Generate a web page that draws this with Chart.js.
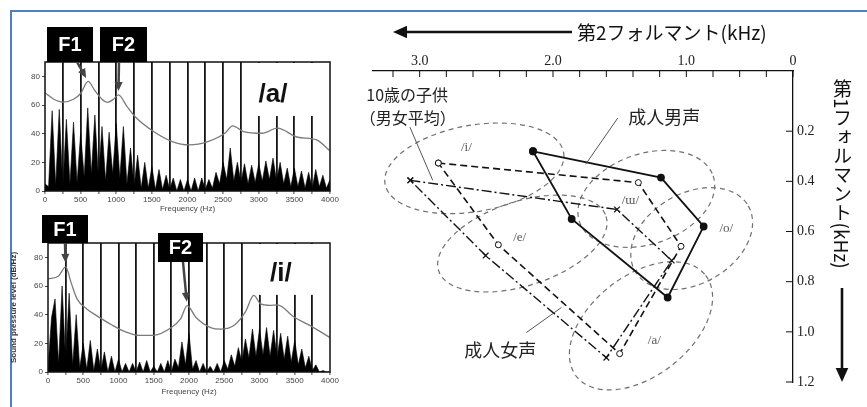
<!DOCTYPE html>
<html>
<head>
<meta charset="utf-8">
<script src="https://cdn.jsdelivr.net/npm/chart.js@4.4.1/dist/chart.umd.min.js"></script>
<style>
  body { margin: 0; background: #fff; }
  #page { position: relative; width: 867px; height: 407px; overflow: hidden; background: #fff; }
  #page canvas { position: absolute; }
  #frame { position: absolute; left: 10px; top: 10px; width: 900px; height: 420px; border-left: 2px solid #4f81bd; border-top: 2px solid #4f81bd; }
  #f1Title { position: absolute; left: 831px; top: 79px; writing-mode: vertical-rl; font: 19px/22px "Noto Sans CJK JP", sans-serif; color: #111; }
  #f1Title span { text-orientation: sideways; }
</style>
</head>
<body>
<div id="page">
  <div id="frame"></div>
  <canvas id="specA" width="340" height="195" style="left:0;top:20px"></canvas>
  <canvas id="specI" width="340" height="207" style="left:0;top:200px"></canvas>
  <canvas id="vowel" width="527" height="407" style="left:340px;top:0"></canvas>
  <div id="f1Title">第<span>1</span>フォルマント(kHz)</div>
</div>
<script>
// spectra: one value (dB) every SPEC_STEP Hz, 0..4000 Hz
const SPEC_STEP = 50;
const FREQ_TICKS = [0, 250, 500, 750, 1000, 1250, 1500, 1750, 2000, 2250, 2500, 2750, 3000, 3250, 3500, 3750, 4000];
const DB_TICKS = [0, 20, 40, 60, 80];

const A_SPEC = [5, 3, 56, 4, 57, 3, 50, 5, 48, 6, 40, 10, 58, 12, 53, 9, 45, 7, 41, 12,
  47, 9, 45, 5, 30, 3, 25, 2, 20, 2, 17, 1, 15, 1, 11, 1, 9, 0, 8, 0,
  8, 0, 9, 0, 9, 1, 8, 2, 13, 5, 20, 8, 30, 7, 20, 6, 19, 5, 18, 6,
  19, 7, 21, 8, 23, 7, 20, 5, 16, 3, 16, 3, 14, 2, 13, 2, 15, 3, 11, 2, 8];
const I_SPEC = [3, 38, 51, 6, 60, 8, 55, 5, 40, 3, 20, 2, 22, 1, 16, 1, 14, 0, 11, 0,
  9, 0, 6, 0, 6, 0, 7, 0, 8, 0, 4, 0, 6, 0, 8, 0, 9, 3, 21, 5,
  27, 2, 8, 0, 6, 0, 4, 0, 6, 0, 8, 2, 12, 4, 17, 7, 23, 10, 30, 11,
  30, 12, 31, 11, 29, 10, 27, 9, 25, 7, 22, 5, 16, 3, 11, 1, 5, 0, 1, 0, 0];

// spectral envelopes
const A_ENV_HZ = [0, 125, 250, 400, 500, 605, 700, 800, 880, 960, 1030, 1150, 1262, 1524, 1786, 2024, 2286, 2524, 2633, 2786, 3048, 3262, 3548, 3810, 4000];
const A_ENV_DB = [68.5, 64, 62, 64, 68, 76.5, 70, 64, 61.8, 64, 67, 59, 52, 41.5, 34.5, 32.2, 34.5, 40.3, 45.5, 41.5, 40.3, 43.8, 37.5, 35.7, 28];
const I_ENV_HZ = [0, 150, 250, 330, 412, 550, 700, 900, 1100, 1300, 1500, 1750, 1880, 1974, 2100, 2306, 2448, 2650, 2800, 2920, 3016, 3150, 3252, 3500, 3726, 4000];
const I_ENV_DB = [65, 67, 73.4, 62, 51, 44, 39, 33, 28, 25.5, 25.6, 31, 37, 46.3, 38, 31, 29.9, 33, 42, 53.4, 47.5, 46.5, 46.8, 38, 32.2, 24];

// vowel chart, kHz. order: /i/ /ɯ/ /o/ /a/ /e/
const MALE_F2 = [2.15, 1.19, 0.87, 1.14, 1.86];
const MALE_F1 = [0.28, 0.385, 0.58, 0.863, 0.55];
const FEMALE_F2 = [2.86, 1.36, 1.04, 1.50, 2.41];
const FEMALE_F1 = [0.327, 0.405, 0.659, 1.087, 0.653];
const CHILD_F2 = [3.07, 1.52, 1.11, 1.60, 2.505];
const CHILD_F1 = [0.396, 0.512, 0.716, 1.103, 0.696];

// top axis: the right end of the axis is printed as "0"
const F2_TICKS = [3.0, 2.0, 1.0, 0.2];
const F2_TICK_LABELS = ['3.0', '2.0', '1.0', '0'];
const F2_MINOR = [3.2, 2.8, 2.6, 2.4, 2.2, 1.8, 1.6, 1.4, 1.2, 0.8, 0.6, 0.4];
const F1_TICKS = [0.2, 0.4, 0.6, 0.8, 1.0, 1.2];

// dashed vowel regions (centre, semi axes in kHz, tilt in degrees)
const REGIONS = [
  { v: 'i', f2: 2.59, f1: 0.348, a: 0.68, b: 0.172, rot: -10, lx: 2.65, ly: 0.264 },
  { v: 'e', f2: 2.23, f1: 0.648, a: 0.66, b: 0.168, rot: -18, lx: 2.25, ly: 0.624 },
  { v: 'ɯ', f2: 1.30, f1: 0.470, a: 0.53, b: 0.18, rot: -19, lx: 1.42, ly: 0.476 },
  { v: 'o', f2: 0.96, f1: 0.628, a: 0.49, b: 0.18, rot: -30, lx: 0.70, ly: 0.588 },
  { v: 'a', f2: 1.34, f1: 0.976, a: 0.615, b: 0.2, rot: -38, lx: 1.24, ly: 1.036 }
];

const NOTES = [
  { text: '10歳の子供', f2: 3.40, f1: 0.056, align: 'left', size: 16 },
  { text: '（男女平均）', f2: 3.45, f1: 0.148, align: 'left', size: 16 },
  { text: '成人男声', f2: 1.166, f1: 0.143, align: 'center', size: 18 },
  { text: '成人女声', f2: 2.396, f1: 1.074, align: 'center', size: 18 }
];
const LEADERS = [
  [3.073, 0.184, 2.902, 0.396],
  [1.515, 0.148, 1.755, 0.332],
  [2.20, 1.003, 1.937, 0.903]
];

function drawArrow(ctx, x0, y0, x1, y1, w, head) {
  const ang = Math.atan2(y1 - y0, x1 - x0);
  ctx.lineWidth = w;
  ctx.beginPath();
  ctx.moveTo(x0, y0);
  ctx.lineTo(x1 - Math.cos(ang) * head * 0.8, y1 - Math.sin(ang) * head * 0.8);
  ctx.stroke();
  ctx.beginPath();
  ctx.moveTo(x1, y1);
  ctx.lineTo(x1 - Math.cos(ang) * head + Math.sin(ang) * head * 0.45, y1 - Math.sin(ang) * head - Math.cos(ang) * head * 0.45);
  ctx.lineTo(x1 - Math.cos(ang) * head - Math.sin(ang) * head * 0.45, y1 - Math.sin(ang) * head + Math.cos(ang) * head * 0.45);
  ctx.closePath();
  ctx.fill();
}

function spectrum(id, spec, envHz, envDb, lay) {
  const specPts = spec.map((v, i) => ({ x: i * SPEC_STEP, y: v }));
  const envPts = envHz.map((f, i) => ({ x: f, y: envDb[i] }));

  const deco = {
    id: 'specDeco',
    beforeDatasetsDraw(chart) {
      const { ctx, chartArea: ca, scales: { x, y } } = chart;
      // white box behind the vowel label hides the grid lines
      const x0 = x.getPixelForValue(lay.label.hz0), x1 = x.getPixelForValue(lay.label.hz1);
      ctx.save();
      ctx.fillStyle = '#fff';
      ctx.fillRect(x0, ca.top + 1, x1 - x0, y.getPixelForValue(lay.label.db) - ca.top);
      ctx.restore();
    },
    afterDraw(chart) {
      const { ctx, chartArea: ca, scales: { x, y } } = chart;
      ctx.save();
      ctx.strokeStyle = '#111';
      ctx.lineWidth = 1.5;
      ctx.strokeRect(ca.left, ca.top, ca.right - ca.left, ca.bottom - ca.top);

      ctx.fillStyle = '#111';
      ctx.font = 'bold 26px "Liberation Sans", Arial';
      ctx.textAlign = 'center';
      ctx.textBaseline = 'middle';
      ctx.fillText(lay.label.text, x.getPixelForValue(lay.label.hz), y.getPixelForValue(lay.label.dbText));

      lay.marks.forEach(m => {
        const tx = x.getPixelForValue(m.hz), ty = y.getPixelForValue(m.db);
        const ang = Math.atan2(ty - m.from[1], tx - m.from[0]);
        ctx.strokeStyle = '#444';
        ctx.fillStyle = '#444';
        drawArrow(ctx, m.from[0], m.from[1], tx - Math.cos(ang) * 4, ty - Math.sin(ang) * 4, 2.5, 9);
        ctx.fillStyle = '#000';
        ctx.fillRect(m.box[0], m.box[1], m.box[2], m.box[3]);
        ctx.fillStyle = '#fff';
        ctx.font = 'bold 20px "Liberation Sans", Arial';
        ctx.fillText(m.text, m.box[0] + m.box[2] / 2, m.box[1] + m.box[3] / 2 + 1);
      });
      ctx.restore();
    }
  };

  return new Chart(document.getElementById(id), {
    type: 'line',
    data: {
      datasets: [
        { data: envPts, borderColor: '#7a7a7a', borderWidth: 1.3, pointRadius: 0, cubicInterpolationMode: 'monotone', fill: false, order: 0 },
        { data: specPts, borderColor: '#000', backgroundColor: '#000', borderWidth: 0.6, pointRadius: 0, tension: 0, fill: 'origin', order: 1 }
      ]
    },
    options: {
      responsive: false,
      animation: false,
      events: [],
      layout: { padding: { left: 0, right: 10, top: lay.top, bottom: lay.bottom } },
      plugins: { legend: { display: false }, tooltip: { enabled: false } },
      scales: {
        x: {
          type: 'linear', min: 0, max: 4000,
          afterBuildTicks: s => { s.ticks = FREQ_TICKS.map(v => ({ value: v })); },
          afterFit: s => { s.height = lay.xh; },
          ticks: {
            autoSkip: false, maxRotation: 0, padding: 1, color: '#444',
            font: { size: 8, family: 'Liberation Sans' },
            callback: v => (v % 500 === 0 ? String(v) : '')
          },
          grid: {
            color: c => (c.tick && (c.tick.value === 0 || c.tick.value === 4000)) ? 'rgba(0,0,0,0)' : '#151515',
            lineWidth: 1.8, tickLength: 3, tickColor: '#444', tickWidth: 1
          },
          border: { display: false },
          title: { display: true, text: 'Frequency (Hz)', color: '#444', font: { size: 8, family: 'Liberation Sans' }, padding: { top: 0, bottom: lay.titlePad } }
        },
        y: {
          min: 0, max: 90,
          afterBuildTicks: s => { s.ticks = DB_TICKS.map(v => ({ value: v })); },
          afterFit: s => { s.width = lay.yw; },
          ticks: { padding: 2, color: '#444', font: { size: 8, family: 'Liberation Sans' } },
          grid: { drawOnChartArea: false, tickLength: 3, color: '#444' },
          border: { display: false },
          title: lay.yTitle
            ? { display: true, text: lay.yTitle, color: '#333', font: { size: 8, weight: 'bold', family: 'Liberation Sans' }, padding: { top: 9, bottom: 0 } }
            : { display: false }
        }
      }
    },
    plugins: [deco]
  });
}

spectrum('specA', A_SPEC, A_ENV_HZ, A_ENV_DB, {
  top: 42, bottom: 0, xh: 24, yw: 45, titlePad: 1,
  label: { text: '/a/', hz: 3200, dbText: 67, hz0: 2900, hz1: 3850, db: 53 },
  marks: [
    { text: 'F1', box: [47, 7, 46, 35], from: [77, 42], hz: 605, db: 76.5 },
    { text: 'F2', box: [100, 7, 47, 35], from: [119, 42], hz: 1030, db: 67 }
  ]
});

spectrum('specI', I_SPEC, I_ENV_HZ, I_ENV_DB, {
  top: 43, bottom: 6, xh: 29, yw: 48, titlePad: 4,
  yTitle: 'Sound pressure level (dB/Hz)',
  label: { text: '/i/', hz: 3304, dbText: 68.7, hz0: 2900, hz1: 3850, db: 54.5 },
  marks: [
    { text: 'F1', box: [42, 15, 46, 28], from: [65, 43], hz: 250, db: 73.4 },
    { text: 'F2', box: [158, 33, 45, 29], from: [183, 62], hz: 1974, db: 46.3 }
  ]
});

const closed = (f2, f1) => f2.map((v, i) => ({ x: v, y: f1[i] })).concat([{ x: f2[0], y: f1[0] }]);

const vowelDeco = {
  id: 'vowelDeco',
  beforeDatasetsDraw(chart) {
    const { ctx, scales: { x, y } } = chart;
    ctx.save();
    ctx.strokeStyle = '#707070';
    ctx.lineWidth = 1.2;
    ctx.setLineDash([5, 4]);
    REGIONS.forEach(r => {
      const cx = x.getPixelForValue(r.f2), cy = y.getPixelForValue(r.f1);
      const a = Math.abs(x.getPixelForValue(r.f2 + r.a) - cx);
      const b = Math.abs(y.getPixelForValue(r.f1 + r.b) - cy);
      ctx.beginPath();
      ctx.ellipse(cx, cy, a, b, r.rot * Math.PI / 180, 0, Math.PI * 2);
      ctx.stroke();
    });
    ctx.setLineDash([]);
    ctx.fillStyle = '#555';
    ctx.font = '13px "Liberation Serif", "DejaVu Serif", serif';
    ctx.textAlign = 'center';
    ctx.textBaseline = 'middle';
    REGIONS.forEach(r => ctx.fillText('/' + r.v + '/', x.getPixelForValue(r.lx), y.getPixelForValue(r.ly)));
    ctx.restore();
  },
  afterDraw(chart) {
    const { ctx, chartArea: ca, scales: { x, y } } = chart;
    ctx.save();
    ctx.strokeStyle = '#111';
    ctx.lineWidth = 1;
    ctx.beginPath();
    F2_TICKS.concat(F2_MINOR).forEach(v => {
      const px = x.getPixelForValue(v);
      ctx.moveTo(px, ca.top);
      ctx.lineTo(px, ca.top + 6);
    });
    F1_TICKS.forEach(v => {
      const py = y.getPixelForValue(v);
      ctx.moveTo(ca.right - 7, py);
      ctx.lineTo(ca.right, py);
    });
    ctx.stroke();

    // leader lines to the group labels
    ctx.strokeStyle = '#555';
    ctx.beginPath();
    LEADERS.forEach(l => {
      ctx.moveTo(x.getPixelForValue(l[0]), y.getPixelForValue(l[1]));
      ctx.lineTo(x.getPixelForValue(l[2]), y.getPixelForValue(l[3]));
    });
    ctx.stroke();

    ctx.fillStyle = '#222';
    ctx.textBaseline = 'middle';
    NOTES.forEach(n => {
      ctx.font = n.size + 'px "Noto Sans CJK JP", sans-serif';
      ctx.textAlign = n.align;
      ctx.fillText(n.text, x.getPixelForValue(n.f2), y.getPixelForValue(n.f1));
    });

    // axis titles with arrows
    ctx.fillStyle = '#111';
    ctx.strokeStyle = '#111';
    drawArrow(ctx, 232, 32, 53, 32, 2.6, 14);
    drawArrow(ctx, 502, 288, 502, 382, 2.6, 14);
    ctx.font = '19px "Noto Sans CJK JP", sans-serif';
    ctx.textAlign = 'left';
    ctx.fillText('第2フォルマント(kHz)', 237, 33);
    ctx.restore();
  }
};

new Chart(document.getElementById('vowel'), {
  type: 'scatter',
  data: {
    datasets: [
      { label: '成人男声', data: closed(MALE_F2, MALE_F1), showLine: true, borderColor: '#111', borderWidth: 1.8,
        pointStyle: 'circle', pointRadius: 3, pointBackgroundColor: '#111', pointBorderColor: '#111' },
      { label: '成人女声', data: closed(FEMALE_F2, FEMALE_F1), showLine: true, borderColor: '#111', borderWidth: 1.6, borderDash: [7, 4],
        pointStyle: 'circle', pointRadius: 3, pointBackgroundColor: '#fff', pointBorderColor: '#111', pointBorderWidth: 1 },
      { label: '10歳の子供', data: closed(CHILD_F2, CHILD_F1), showLine: true, borderColor: '#111', borderWidth: 1.4, borderDash: [10, 3, 2, 3],
        pointStyle: 'crossRot', pointRadius: 4, pointBorderColor: '#111', pointBorderWidth: 1.2 }
    ]
  },
  options: {
    responsive: false,
    animation: false,
    events: [],
    layout: { padding: { left: 33, right: 0, top: 0, bottom: 25 } },
    plugins: { legend: { display: false }, tooltip: { enabled: false } },
    scales: {
      x: {
        type: 'linear', position: 'top', reverse: true, min: 0.2, max: 3.35,
        afterBuildTicks: s => { s.ticks = F2_TICKS.map(v => ({ value: v })); },
        afterFit: s => { s.height = 71; },
        ticks: { autoSkip: false, maxRotation: 0, padding: 1, color: '#222',
          font: { size: 14, family: 'Liberation Serif' },
          callback: (v, i) => F2_TICK_LABELS[i] },
        grid: { display: false, drawTicks: false, tickLength: 0 },
        border: { display: true, color: '#111', width: 1.3 }
      },
      y: {
        type: 'linear', position: 'right', reverse: true, min: -0.04, max: 1.2,
        afterBuildTicks: s => { s.ticks = F1_TICKS.map(v => ({ value: v })); },
        afterFit: s => { s.width = 74; },
        ticks: { padding: 4, color: '#222', font: { size: 14, family: 'Liberation Serif' },
          callback: v => v.toFixed(1) },
        grid: { display: false, drawTicks: false, tickLength: 0 },
        border: { display: true, color: '#111', width: 1.3 }
      }
    }
  },
  plugins: [vowelDeco]
});
</script>
</body>
</html>
